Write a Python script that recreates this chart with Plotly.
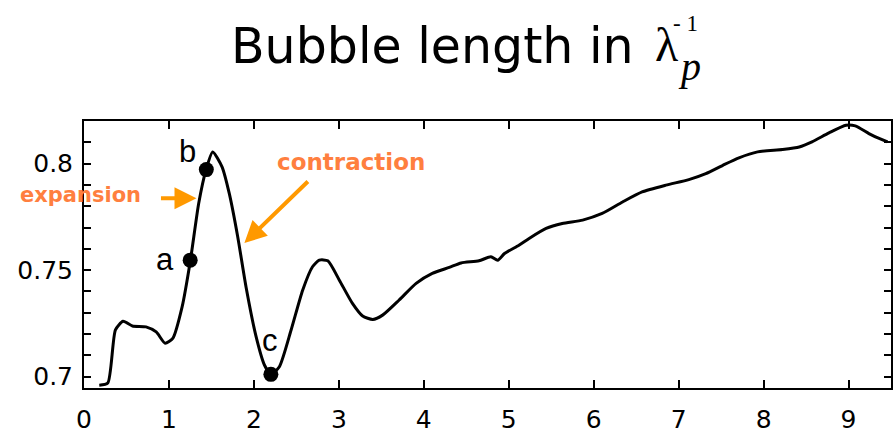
import plotly.graph_objects as go

# Curve data
x_vals = [0.18, 0.28, 0.37, 0.46, 0.57, 0.73, 0.85, 0.955, 1.045, 1.155, 1.253, 1.35, 1.437, 1.515,
          1.625, 1.71, 1.81, 1.908, 2.026, 2.124, 2.2, 2.3, 2.438, 2.574, 2.69, 2.77, 2.87, 3.006,
          3.16, 3.28, 3.4, 3.515, 3.71, 3.91, 4.10, 4.3, 4.44, 4.65, 4.79, 4.87, 4.95, 5.12, 5.24,
          5.44, 5.63, 5.87, 6.10, 6.34, 6.57, 6.85, 7.12, 7.32, 7.52, 7.71, 7.93, 8.22, 8.42, 8.57,
          8.77, 8.97, 9.08, 9.24, 9.36, 9.46]
y_vals = [0.696, 0.697, 0.722, 0.726, 0.7238, 0.7234, 0.721, 0.7157, 0.718, 0.7328, 0.7547, 0.7813,
          0.7972, 0.8055, 0.7985, 0.786, 0.7656, 0.742, 0.7188, 0.7055, 0.7011, 0.7047, 0.7219,
          0.7406, 0.7516, 0.7547, 0.7544, 0.7453, 0.7344, 0.7285, 0.7269, 0.7289, 0.736, 0.7438,
          0.7485, 0.7513, 0.7534, 0.7544, 0.7563, 0.7547, 0.7578, 0.7617, 0.7649, 0.7696, 0.7719,
          0.7735, 0.7766, 0.782, 0.7867, 0.7899, 0.7925, 0.7953, 0.7992, 0.8027, 0.8055, 0.8066,
          0.8078, 0.8102, 0.8144, 0.818, 0.8177, 0.8141, 0.8118, 0.8102]

# Marked points
pt_labels = ["a", "b", "c"]
pt_x = [1.25, 1.44, 2.2]
pt_y = [0.7547, 0.7972, 0.7011]

x_ticks = list(range(0, 10))
y_ticks = [round(0.70 + 0.01 * i, 2) for i in range(12)]
y_ticktext = ["0.7" if abs(v - 0.70) < 1e-9 else "0.75" if abs(v - 0.75) < 1e-9 else "0.8" if abs(v - 0.80) < 1e-9 else "" for v in y_ticks]

fig = go.Figure()
fig.add_trace(go.Scatter(x=x_vals, y=y_vals, mode="lines",
                         line=dict(color="black", width=3, shape="spline", smoothing=0.6),
                         hoverinfo="skip"))
fig.add_trace(go.Scatter(x=pt_x, y=pt_y, mode="markers",
                         marker=dict(color="black", size=15), hoverinfo="skip"))

W, H = 894, 434
L, R, T, B = 84, 3, 121, 46
pw, ph = W - L - R, H - T - B

def px(x):
    return (x - L) / pw

def py(y):
    return (H - B - y) / ph

annos = []
# point labels
lab_pos = [(0.959, 0.7552), (1.224, 0.8058), (2.194, 0.7172)]
for t, (lx, ly) in zip(pt_labels, lab_pos):
    annos.append(dict(x=lx, y=ly, xref="x", yref="y", text=t, showarrow=False,
                      xanchor="center", yanchor="middle",
                      font=dict(family="Liberation Sans", size=31, color="black")))

orange_txt = "#FF7F3F"
orange_arr = "#FF9900"
annos.append(dict(x=px(80), y=py(195), xref="paper", yref="paper", text="<b>expansion</b>",
                  xanchor="center", yanchor="middle",
                  showarrow=False, font=dict(family="DejaVu Sans", size=21, color=orange_txt)))
annos.append(dict(x=px(351), y=py(162), xref="paper", yref="paper", text="<b>contraction</b>",
                  xanchor="center", yanchor="middle",
                  showarrow=False, font=dict(family="DejaVu Sans", size=23, color=orange_txt)))
annos.append(dict(x=1.324, y=0.7838, xref="x", yref="y", text="", showarrow=True,
                  ax=-37, ay=0, arrowcolor=orange_arr, arrowwidth=4, arrowhead=2, arrowsize=1.1,
                  standoff=0))
annos.append(dict(x=1.888, y=0.7627, xref="x", yref="y", text="", showarrow=True,
                  ax=65, ay=-63, arrowcolor=orange_arr, arrowwidth=4, arrowhead=2, arrowsize=1.1,
                  standoff=0))
# title pieces
annos.append(dict(x=px(229), y=py(46), xref="paper", yref="paper", xanchor="left", yanchor="middle",
                  text="Bubble length in", showarrow=False,
                  font=dict(family="DejaVu Sans", size=49, color="black")))
annos.append(dict(x=px(667), y=py(45), xref="paper", yref="paper", xanchor="center", yanchor="middle",
                  text="λ", showarrow=False,
                  font=dict(family="Liberation Serif", size=48, color="black")))
annos.append(dict(x=px(689), y=py(67), xref="paper", yref="paper", xanchor="center", yanchor="middle",
                  text="<i>p</i>", showarrow=False,
                  font=dict(family="Liberation Serif", size=40, color="black")))
annos.append(dict(x=px(685), y=py(23), xref="paper", yref="paper", xanchor="center", yanchor="middle",
                  text="- 1", showarrow=False,
                  font=dict(family="Liberation Serif", size=23, color="black")))

fig.update_layout(
    width=W, height=H, margin=dict(l=L, r=R, t=T, b=B),
    paper_bgcolor="white", plot_bgcolor="white", showlegend=False,
    annotations=annos,
    font=dict(family="DejaVu Sans", size=25, color="black"),
)
fig.update_xaxes(range=[0, 9.5], tickvals=x_ticks, ticks="inside", ticklen=8, tickwidth=2,
                 tickcolor="black", showline=True, linecolor="black", linewidth=2, mirror="ticks",
                 showgrid=False, zeroline=False, ticklabelstandoff=8, automargin=False,
                 tickfont=dict(family="DejaVu Sans", size=25))
fig.update_yaxes(range=[0.6947, 0.82], tickvals=y_ticks, ticktext=y_ticktext, ticks="inside",
                 ticklen=7, tickwidth=2, tickcolor="black", showline=True, linecolor="black",
                 linewidth=2, mirror="ticks", showgrid=False, zeroline=False, ticklabelstandoff=4,
                 automargin=False, tickfont=dict(family="DejaVu Sans", size=25))

fig.write_html("out.html", config={"displayModeBar": False},
               post_script="document.body.style.margin='0px';document.body.style.overflow='hidden';")
